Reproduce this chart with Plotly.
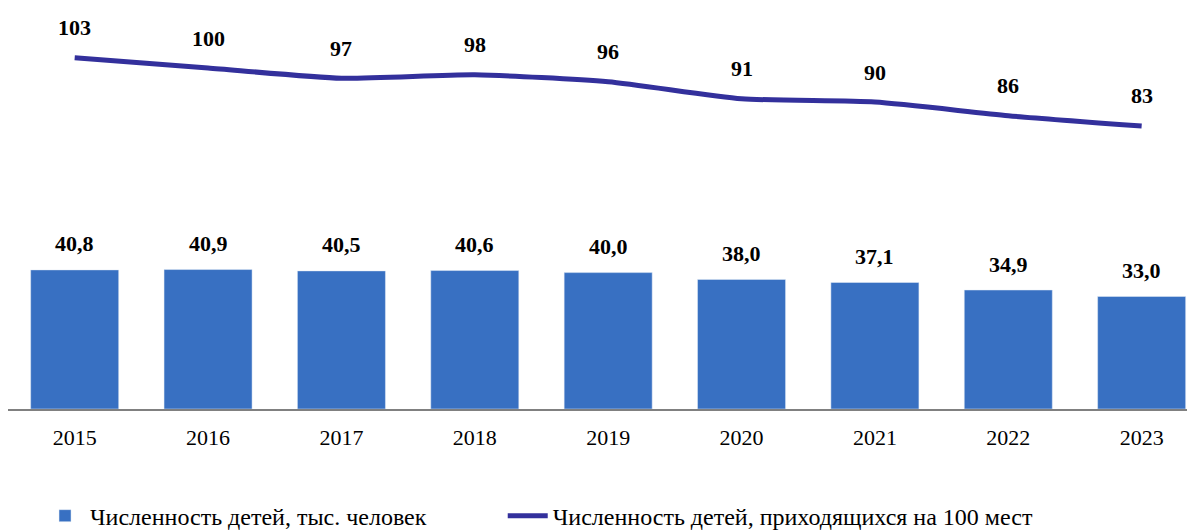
import plotly.graph_objects as go

years = ["2015", "2016", "2017", "2018", "2019", "2020", "2021", "2022", "2023"]
children = [40.8, 40.9, 40.5, 40.6, 40.0, 38.0, 37.1, 34.9, 33.0]
per100 = [103, 100, 97, 98, 96, 91, 90, 86, 83]
bar_labels = ["40,8", "40,9", "40,5", "40,6", "40,0", "38,0", "37,1", "34,9", "33,0"]
line_labels = [str(v) for v in per100]

name_bar = "Численность детей, тыс. человек"
name_line = "Численность детей, приходящихся на 100 мест"

BAR_COLOR = "#3870C2"
LINE_COLOR = "#33309C"
FONT = "Times New Roman"

fig = go.Figure()
fig.add_trace(go.Bar(x=years, y=children, name=name_bar, marker_color=BAR_COLOR,
                     width=0.66, hoverinfo="skip", legend="legend"))
fig.add_trace(go.Scatter(x=years, y=per100, name=name_line, mode="lines",
                         line=dict(color=LINE_COLOR, width=5, shape="spline", smoothing=0.6),
                         hoverinfo="skip", legend="legend2"))

annotations = []
for i, (y, t) in enumerate(zip(children, bar_labels)):
    annotations.append(dict(x=i, y=y, xref="x", yref="y", text="<b>%s</b>" % t, showarrow=False,
                            yshift=26, font=dict(family=FONT, size=22, color="#000000")))
for i, (y, t) in enumerate(zip(per100, line_labels)):
    annotations.append(dict(x=i, y=y, xref="x", yref="y", text="<b>%s</b>" % t, showarrow=False,
                            yshift=30, font=dict(family=FONT, size=22, color="#000000")))

legend_common = dict(orientation="h", xanchor="left", y=-0.267, yanchor="middle",
                     font=dict(family=FONT, size=24, color="#000000"),
                     itemwidth=40, bgcolor="rgba(0,0,0,0)")

fig.update_layout(
    width=1195, height=531,
    margin=dict(l=0, r=0, t=0, b=130, autoexpand=False),
    paper_bgcolor="white", plot_bgcolor="white",
    font=dict(family=FONT, size=22, color="#000000"),
    showlegend=True,
    legend=dict(x=0.0268, **legend_common),
    legend2=dict(x=0.414, **legend_common),
    annotations=annotations,
)
fig.update_xaxes(type="category", range=[-0.5, 8.46], showline=True, linecolor="#808080",
                 linewidth=1.5, ticks="", showgrid=False, tickfont=dict(family=FONT, size=22),
                 ticklabelstandoff=8)
fig.update_yaxes(range=[0, 117.6], visible=False, showgrid=False, zeroline=False)

fig.write_html("out.html")
